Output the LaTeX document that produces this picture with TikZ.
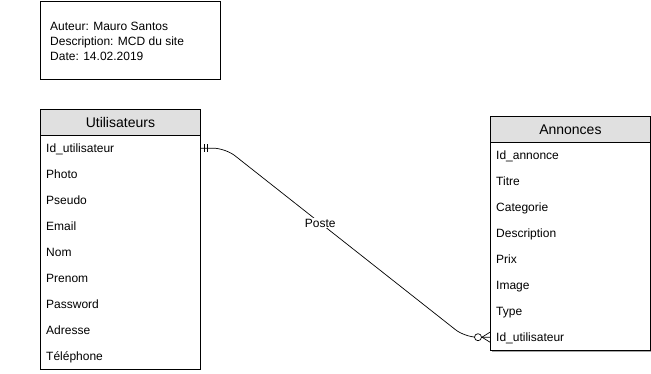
\documentclass[tikz,border=0pt]{standalone}
\usepackage{fontspec}
\setmainfont{Liberation Sans}
\usetikzlibrary{calc}
\definecolor{hdrgray}{HTML}{E0E0E0}
\begin{document}
\begin{tikzpicture}[x=1pt,y=-1pt,
  every node/.style={font=\fontsize{12}{14}\selectfont},
  infobox/.style={draw, line width=0.8pt, minimum width=180pt, minimum height=78pt, anchor=north west, inner sep=0pt},
  tblhead/.style={draw, line width=0.8pt, fill=hdrgray, minimum width=160pt, minimum height=26pt, anchor=north west, inner sep=0pt, text height=10pt, text depth=0pt, font=\fontsize{14}{16}\selectfont},
  tblrow/.style={minimum height=26pt, text width=148pt, inner xsep=6pt, inner ysep=0pt, text height=9pt, text depth=0pt, align=left, anchor=north west},
  tblframe/.style={draw, line width=0.8pt},
  rel/.style={line width=0.7pt},
  lbl/.style={fill=white, inner sep=1pt}
]
\useasboundingbox (0,0) rectangle (651,373);

% header block
\node[infobox] (info) at (40,1) {};
\node[anchor=north west, align=left, inner sep=0pt, font=\fontsize{12}{15}\selectfont] (infotxt) at (50,21.5)
  {Auteur: Mauro Santos\\Description: MCD du site\\Date: 14.02.2019};

% entity Utilisateurs
\node[tblhead] (uh) at (40,109) {Utilisateurs};
\node[tblrow] (u1) at (40,135) {Id\_utilisateur};
\node[tblrow] (u2) at (40,161) {Photo};
\node[tblrow] (u3) at (40,187) {Pseudo};
\node[tblrow] (u4) at (40,213) {Email};
\node[tblrow] (u5) at (40,239) {Nom};
\node[tblrow] (u6) at (40,265) {Prenom};
\node[tblrow] (u7) at (40,291) {Password};
\node[tblrow] (u8) at (40,317) {Adresse};
\node[tblrow] (u9) at (40,343) {Téléphone};
\draw[tblframe] (uh.south west) rectangle (u9.south east);

% entity Annonces (with drop shadow)
\fill[black!35] (492,118) rectangle (652,352);
\fill[white] (490,116) rectangle (650,350);
\node[tblhead] (ah) at (490,116) {Annonces};
\node[tblrow] (a1) at (490,142) {Id\_annonce};
\node[tblrow] (a2) at (490,168) {Titre};
\node[tblrow] (a3) at (490,194) {Categorie};
\node[tblrow] (a4) at (490,220) {Description};
\node[tblrow] (a5) at (490,246) {Prix};
\node[tblrow] (a6) at (490,272) {Image};
\node[tblrow] (a7) at (490,298) {Type};
\node[tblrow] (a8) at (490,324) {Id\_utilisateur};
\draw[tblframe] (ah.south west) rectangle (a8.south east);

% relationship Poste
\coordinate (ubend) at ($(u1.east)+(25,0)$);
\coordinate (abend) at ($(a8.west)+(-25,0)$);
\draw[rel, rounded corners=12pt] (u1.east) -- (ubend) -- (abend) -- (a8.west);
\path (ubend) -- (abend) node[lbl, pos=0.396] (poste) {Poste};

% cardinality: exactly one
\draw[rel] ($(u1.east)+(4,-4)$) -- ($(u1.east)+(4,4)$);
\draw[rel] ($(u1.east)+(7,-4)$) -- ($(u1.east)+(7,4)$);

% cardinality: zero or many
\draw[rel] ($(a8.west)+(-8,0)$) -- ($(a8.west)+(0,-5)$);
\draw[rel] ($(a8.west)+(-8,0)$) -- ($(a8.west)+(0,5)$);
\draw[rel, fill=white] ($(a8.west)+(-12,0)$) circle (3.5pt);
\end{tikzpicture}
\end{document}
